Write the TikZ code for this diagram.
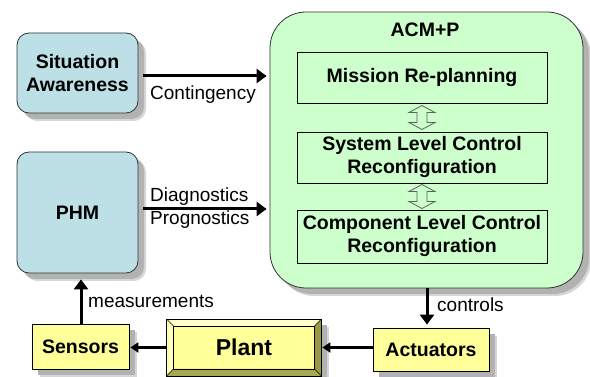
\documentclass[tikz,border=0pt]{standalone}
\usepackage{fontspec}
\setmainfont{Liberation Sans}
\usetikzlibrary{calc,arrows.meta}
\definecolor{bluebox}{HTML}{BCE0E5}
\definecolor{greenbox}{HTML}{CCFFCC}
\definecolor{yelbox}{HTML}{FFFF99}
\definecolor{olivedark}{HTML}{999944}
\definecolor{olivemid}{HTML}{A8A850}
\definecolor{yellight}{HTML}{FFFFCC}
\definecolor{yelleft}{HTML}{FFFFB8}
\definecolor{dblgray}{HTML}{606060}
\tikzset{
  shad/.style={
    preaction={fill=black!16, transform canvas={shift={(8pt,-8pt)}}},
    preaction={fill=black!30, transform canvas={shift={(6pt,-6pt)}}}},
  bfont/.style={font=\fontsize{19.5}{23}\selectfont\bfseries},
  lfont/.style={font=\fontsize{19}{22}\selectfont},
  bluest/.style={shad, draw=black!80, line width=0.8pt, fill=bluebox,
    rounded corners=12pt, align=center, bfont, inner sep=0pt},
  acmst/.style={shad, draw=black!80, line width=0.8pt, fill=greenbox,
    rounded corners=36pt, inner sep=0pt},
  innerst/.style={draw=black, line width=0.8pt, fill=greenbox,
    align=center, bfont, inner sep=0pt, minimum width=250pt},
  yelst/.style={shad, draw=black, line width=0.8pt, fill=yelbox,
    align=center, bfont, inner sep=0pt},
  bigarrow/.style={line width=3pt, -{Triangle[length=10pt,width=14pt]}},
  smallarrow/.style={line width=2.2pt, -{Triangle[length=8pt,width=10pt]}},
  lbl/.style={lfont, inner sep=0pt, anchor=base west},
  dbl/.pic={\draw[draw=dblgray, fill=greenbox, line width=0.8pt]
     (0,-12) -- (-13,-5) -- (-5,-5) -- (-5,5) -- (-13,5) -- (0,12)
     -- (13,5) -- (5,5) -- (5,-5) -- (13,-5) -- cycle;}
}
\begin{document}
\begin{tikzpicture}[x=1pt,y=-1pt]
\useasboundingbox (0,0) rectangle (590,377);

% left boxes
\node[bluest, minimum width=121pt, minimum height=80pt] (sa) at (77.5,73)
  {Situation\\Awareness};
\node[bluest, minimum width=121pt, minimum height=121pt] (phm) at (77.5,212.5)
  {PHM};

% ACM+P container
\node[acmst, minimum width=313pt, minimum height=276pt] (acm) at (426.5,150) {};
\node[bfont, inner sep=0pt] (acmlbl) at (425,30) {ACM+P};
\node[innerst, minimum height=51pt] (mission) at (422,77.5) {Mission Re-planning};
\node[innerst, minimum height=51pt] (system) at (422,157.5)
  {System Level Control\\Reconfiguration};
\node[innerst, minimum height=53pt] (comp) at (422,236.5)
  {Component Level Control\\Reconfiguration};
\pic at ($(mission.south)!0.5!(system.north)$) {dbl};
\pic at ($(system.south)!0.5!(comp.north)$) {dbl};

% bottom row
\node[yelst, minimum width=97pt, minimum height=45pt] (sensors) at (80.5,346.5) {Sensors};
\node[yelst, minimum width=116pt, minimum height=43pt] (actuators) at (431,349.5) {Actuators};
\node[yelst, minimum width=154pt, minimum height=56pt,
      font=\fontsize{23}{26}\selectfont\bfseries] (plant) at (244,347.5) {Plant};
\coordinate (pA) at (plant.north west);
\coordinate (pB) at (plant.north east);
\coordinate (pC) at (plant.south east);
\coordinate (pD) at (plant.south west);
\coordinate (iA) at ($(pA)+(7,7)$);
\coordinate (iB) at ($(pB)+(-7,7)$);
\coordinate (iC) at ($(pC)+(-7,-7)$);
\coordinate (iD) at ($(pD)+(7,-7)$);
\fill[yellight] (pA) -- (pB) -- (iB) -- (iA) -- cycle;
\fill[yelleft] (pA) -- (iA) -- (iD) -- (pD) -- cycle;
\fill[olivedark] (pB) -- (pC) -- (iC) -- (iB) -- cycle;
\fill[olivemid] (pD) -- (iD) -- (iC) -- (pC) -- cycle;
\draw[line width=0.6pt] (pA) -- (iA) (pB) -- (iB) (pC) -- (iC) (pD) -- (iD);
\draw[line width=0.8pt] (pA) rectangle (pC);
\draw[line width=0.8pt] (iA) rectangle (iC);

% connectors
\coordinate (yc) at (0,76);
\coordinate (yd) at (0,209);
\coordinate (xm) at (81,0);
\coordinate (xc) at (427,0);
\draw[bigarrow, shorten <=5pt, shorten >=3pt] (sa.east |- yc) -- (acm.west |- yc);
\draw[bigarrow, shorten <=5pt, shorten >=3pt] (phm.east |- yd) -- (acm.west |- yd);
\draw[bigarrow, shorten >=6pt] (sensors.north -| xm) -- (phm.south -| xm);
\draw[bigarrow, shorten >=3pt] (acm.south -| xc) -- (actuators.north -| xc);
\draw[smallarrow, shorten >=1pt] (actuators.west |- plant.center) -- (plant.east);
\draw[smallarrow, shorten >=1pt] (plant.west) -- (sensors.east |- plant.center);

% labels
\node[lbl] (lcont) at (150,100) {Contingency};
\node[lbl] (ldiag) at (150,202) {Diagnostics};
\node[lbl] (lprog) at (150,225) {Prognostics};
\node[lbl] (lmeas) at (88,308) {measurements};
\node[lbl] (lctrl) at (437,312) {controls};
\end{tikzpicture}
\end{document}
